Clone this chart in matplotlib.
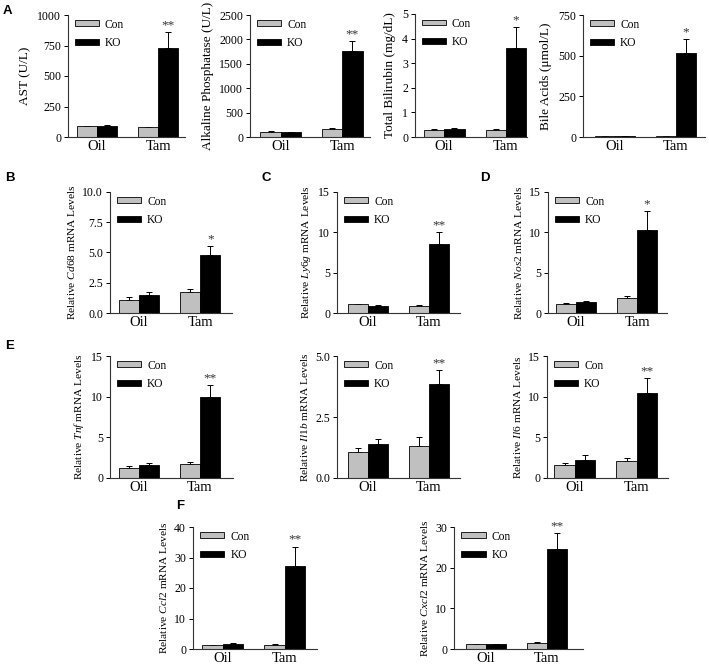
import matplotlib.pyplot as plt
from matplotlib.patches import Patch

plt.rcParams['font.family'] = 'Liberation Serif'
plt.rcParams['mathtext.fontset'] = 'custom'
plt.rcParams['mathtext.rm'] = 'Liberation Serif'
plt.rcParams['mathtext.it'] = 'Liberation Serif:italic'

W, H = 709, 666
groups = ['Oil', 'Tam']
con_color = '#c0c0c0'
ko_color = '#000000'

# values: [Oil, Tam]
ast_con, ast_con_err = [88, 82], [3, 4]
ast_ko, ast_ko_err = [93, 726], [4, 134]
alp_con, alp_con_err = [103, 171], [10, 8]
alp_ko, alp_ko_err = [96, 1767], [8, 199]
bil_con, bil_con_err = [0.30, 0.30], [0.02, 0.02]
bil_ko, bil_ko_err = [0.34, 3.63], [0.02, 0.83]
ba_con, ba_con_err = [5, 5], [1, 1]
ba_ko, ba_ko_err = [5, 516], [1, 89]
cd68_con, cd68_con_err = [1.10, 1.74], [0.22, 0.24]
cd68_ko, cd68_ko_err = [1.51, 4.82], [0.23, 0.74]
ly6g_con, ly6g_con_err = [1.10, 0.90], [0.06, 0.12]
ly6g_ko, ly6g_ko_err = [0.83, 8.55], [0.17, 1.45]
nos2_con, nos2_con_err = [1.16, 1.86], [0.08, 0.29]
nos2_ko, nos2_ko_err = [1.32, 10.25], [0.18, 2.45]
tnf_con, tnf_con_err = [1.22, 1.76], [0.21, 0.20]
tnf_ko, tnf_ko_err = [1.60, 10.0], [0.24, 1.40]
il1b_con, il1b_con_err = [1.05, 1.33], [0.17, 0.34]
il1b_ko, il1b_ko_err = [1.40, 3.87], [0.20, 0.55]
il6_con, il6_con_err = [1.55, 2.08], [0.33, 0.37]
il6_ko, il6_ko_err = [2.20, 10.4], [0.58, 1.85]
ccl2_con, ccl2_con_err = [1.20, 1.30], [0.20, 0.20]
ccl2_ko, ccl2_ko_err = [1.50, 27.3], [0.35, 6.3]
cxcl2_con, cxcl2_con_err = [1.20, 1.45], [0.15, 0.15]
cxcl2_ko, cxcl2_ko_err = [1.20, 24.5], [0.15, 4.0]


def rel(gene):
    return 'Relative $\\it{' + gene + '}$ mRNA Levels'


# (ylabel, con, con_err, ko, ko_err, stars, yticks, ticklabels, box px (l, t, r, b), xlim, label size)
panels = [
    ('AST (U/L)', ast_con, ast_con_err, ast_ko, ast_ko_err, '**',
     [0, 250, 500, 750, 1000], None, (68, 15, 185, 137), (-0.475, 1.44), 9.5),
    ('Alkaline Phosphatase (U/L)', alp_con, alp_con_err, alp_ko, alp_ko_err, '**',
     [0, 500, 1000, 1500, 2000, 2500], None, (250, 15, 370, 137), (-0.50, 1.45), 9.5),
    ('Total Bilirubin (mg/dL)', bil_con, bil_con_err, bil_ko, bil_ko_err, '*',
     [0, 1, 2, 3, 4, 5], None, (415, 14, 527, 137), (-0.47, 1.34), 9.5),
    ('Bile Acids (\u03bcmol/L)', ba_con, ba_con_err, ba_ko, ba_ko_err, '*',
     [0, 250, 500, 750], None, (583, 15, 705, 137), (-0.52, 1.48), 9.5),
    (rel('Cd68'), cd68_con, cd68_con_err, cd68_ko, cd68_ko_err, '*',
     [0, 2.5, 5, 7.5, 10], ['0.0', '2.5', '5.0', '7.5', '10.0'], (110, 192, 232, 313), (-0.475, 1.52), 8.2),
    (rel('Ly6g'), ly6g_con, ly6g_con_err, ly6g_ko, ly6g_ko_err, '**',
     [0, 5, 10, 15], None, (337, 192, 460, 313), (-0.51, 1.51), 8.2),
    (rel('Nos2'), nos2_con, nos2_con_err, nos2_ko, nos2_ko_err, '*',
     [0, 5, 10, 15], None, (548, 192, 667, 313), (-0.46, 1.49), 8.2),
    (rel('Tnf'), tnf_con, tnf_con_err, tnf_ko, tnf_ko_err, '**',
     [0, 5, 10, 15], None, (110, 356, 233, 478), (-0.475, 1.54), 8.2),
    (rel('Il1b'), il1b_con, il1b_con_err, il1b_ko, il1b_ko_err, '**',
     [0, 2.5, 5], ['0.0', '2.5', '5.0'], (337, 356, 460, 478), (-0.51, 1.51), 8.2),
    (rel('Il6'), il6_con, il6_con_err, il6_ko, il6_ko_err, '**',
     [0, 5, 10, 15], None, (547, 356, 668, 478), (-0.45, 1.50), 8.2),
    (rel('Ccl2'), ccl2_con, ccl2_con_err, ccl2_ko, ccl2_ko_err, '**',
     [0, 10, 20, 30, 40], None, (193, 527, 317, 649), (-0.48, 1.52), 8.2),
    (rel('Cxcl2'), cxcl2_con, cxcl2_con_err, cxcl2_ko, cxcl2_ko_err, '**',
     [0, 10, 20, 30], None, (454, 527, 583, 649), (-0.52, 1.59), 8.2),
]

letters = [('A', 3, 11), ('B', 5, 178), ('C', 262, 178), ('D', 480, 178),
           ('E', 5, 346), ('F', 176, 506)]

fig = plt.figure(figsize=(W / 100, H / 100), dpi=100)

bw = 0.33
x = [0, 1]
for (ylab, con, con_err, ko, ko_err, stars, yt, ytl, box, xlim, lsize) in panels:
    l, t, r, b = box
    ax = fig.add_axes([l / W, 1 - b / H, (r - l) / W, (b - t) / H])
    xc = [xi - bw / 2 for xi in x]
    xk = [xi + bw / 2 for xi in x]
    ax.bar(xc, con, bw, color=con_color, edgecolor='black', linewidth=0.6, zorder=2)
    ax.bar(xk, ko, bw, color=ko_color, edgecolor='black', linewidth=0.6, zorder=2)
    ax.errorbar(xc, con, yerr=[[0, 0], con_err], fmt='none', ecolor='black',
                elinewidth=0.7, capsize=2.5, capthick=0.7, zorder=1)
    ax.errorbar(xk, ko, yerr=[[0, 0], ko_err], fmt='none', ecolor='black',
                elinewidth=0.7, capsize=2.5, capthick=0.7, zorder=1)
    ax.annotate(stars, (xk[1], ko[1] + ko_err[1]), xytext=(0, 0.5),
                textcoords='offset points', ha='center', va='bottom', fontsize=9.5,
                color='#333333')
    ax.set_xlim(*xlim)
    ax.set_ylim(yt[0], yt[-1])
    ax.set_yticks(yt)
    if ytl is not None:
        ax.set_yticklabels(ytl)
    ax.set_xticks(x)
    ax.set_xticklabels(groups, fontsize=10.5)
    ax.tick_params(axis='x', length=0, pad=2.5)
    ax.tick_params(axis='y', length=3, width=0.7, labelsize=8.5, pad=2, direction='out')
    for s in ['top', 'right']:
        ax.spines[s].set_visible(False)
    for s in ['left', 'bottom']:
        ax.spines[s].set_linewidth(0.8)
        ax.spines[s].set_color('#333333')
    ax.set_ylabel(ylab, fontsize=lsize, labelpad=4)
    handles = [Patch(facecolor=con_color, edgecolor='black', linewidth=0.6, label='Con'),
               Patch(facecolor=ko_color, edgecolor='black', linewidth=0.6, label='KO')]
    ax.legend(handles=handles, loc='upper left', bbox_to_anchor=(0.04, 0.99),
              frameon=False, fontsize=8.3, handlelength=2.1, handleheight=0.4,
              handletextpad=0.5, labelspacing=0.55, borderaxespad=0, borderpad=0.2)

for txt, px, py in letters:
    fig.text(px / W, 1 - py / H, txt, fontsize=9.5, fontweight='bold',
             family='Liberation Sans', va='center', ha='left')

fig.savefig('out.png', dpi=100)
